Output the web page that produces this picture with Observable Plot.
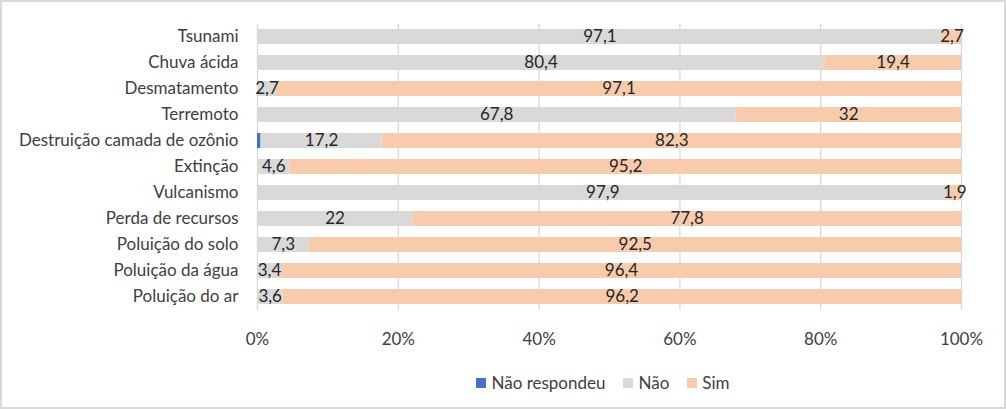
<!DOCTYPE html>
<html>
<head>
<meta charset="utf-8">
<script src="https://cdn.jsdelivr.net/npm/d3@7"></script>
<script src="https://cdn.jsdelivr.net/npm/@observablehq/plot@0.6"></script>
<style>
  html, body { margin: 0; padding: 0; background: #fff; }
  #frame { position: absolute; left: 0; top: 0; width: 1006px; height: 409px; box-sizing: border-box; border: 2px solid #d9d9d9; background: #fff; }
  #chart { position: absolute; left: 0; top: 0; }
  #legend { position: absolute; left: 0; top: 372px; width: 1006px; display: flex; justify-content: center; font-family: Lato, sans-serif; font-size: 17px; color: #404040; padding-left: 218px; box-sizing: border-box; }
  .item { display: flex; align-items: center; margin-right: 18px; }
  .sw { width: 10px; height: 10px; margin-right: 5px; }
</style>
</head>
<body>
<div id="frame"></div>
<div id="chart"></div>
<div id="legend"></div>
<script>
const categories = ["Tsunami", "Chuva ácida", "Desmatamento", "Terremoto", "Destruição camada de ozônio", "Extinção", "Vulcanismo", "Perda de recursos", "Poluição do solo", "Poluição da água", "Poluição do ar"];
const series = ["Não respondeu", "Não", "Sim"];
const naoRespondeu = [0, 0, 0, 0, 0.5, 0, 0, 0, 0, 0, 0];
const nao = [97.1, 80.4, 2.7, 67.8, 17.2, 4.6, 97.9, 22, 7.3, 3.4, 3.6];
const sim = [2.7, 19.4, 97.1, 32, 82.3, 95.2, 1.9, 77.8, 92.5, 96.4, 96.2];
const colors = ["#4472c4", "#d9d9d9", "#f8cbad"];
const xTicks = [0, 0.2, 0.4, 0.6, 0.8, 1];

const values = [naoRespondeu, nao, sim];
const data = [];
categories.forEach((c, i) => {
  series.forEach((s, j) => data.push({category: c, series: s, value: values[j][i]}));
});

const stackOpts = {x: "value", y: "category", z: "series", order: series, offset: "normalize"};

const chart = Plot.plot({
  width: 1006,
  height: 355,
  marginLeft: 257,
  marginRight: 45,
  marginTop: 24,
  marginBottom: 45,
  style: {fontFamily: "Lato, sans-serif", fontSize: "17px", color: "#404040", background: "transparent"},
  x: {domain: [0, 1], ticks: xTicks, tickFormat: d => Math.round(d * 100) + "%", tickSize: 0, tickPadding: 22, label: null},
  y: {domain: categories, paddingInner: 0.42, paddingOuter: 0.21, tickSize: 0, tickPadding: 19, label: null},
  color: {domain: series, range: colors},
  marks: [
    Plot.ruleX(xTicks, {x: d => d, stroke: "#d9d9d9", strokeWidth: 1.3}),
    Plot.barX(data, Plot.stackX({...stackOpts, fill: "series"})),
    Plot.text(data, Plot.stackX({...stackOpts, text: d => (d.series === "Não respondeu" || d.value === 0) ? null : String(d.value).replace(".", ","), fill: "#262626", fontSize: 17}))
  ]
});
document.getElementById("chart").appendChild(chart);

const legend = document.getElementById("legend");
series.forEach((s, j) => {
  const it = document.createElement("div");
  it.className = "item";
  const sw = document.createElement("div");
  sw.className = "sw";
  sw.style.background = colors[j];
  const t = document.createElement("span");
  t.textContent = s;
  it.appendChild(sw); it.appendChild(t);
  legend.appendChild(it);
});
</script>
</body>
</html>
